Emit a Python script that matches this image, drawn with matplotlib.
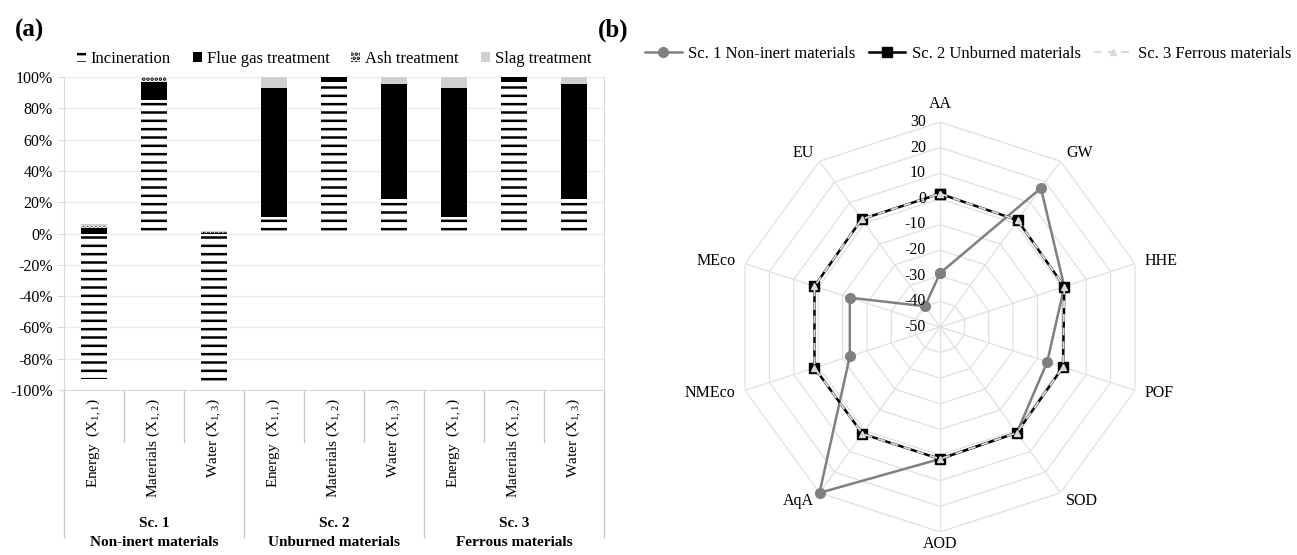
import numpy as np
import matplotlib
matplotlib.use('Agg')
import matplotlib.pyplot as plt
from matplotlib.ticker import FuncFormatter
from matplotlib.transforms import blended_transform_factory

plt.rcParams['font.family'] = ['Liberation Serif', 'DejaVu Serif']
plt.rcParams['mathtext.fontset'] = 'custom'
plt.rcParams['mathtext.rm'] = 'Liberation Serif'
plt.rcParams['hatch.linewidth'] = 1.8
plt.rcParams['font.size'] = 11

# (a) contribution of each process, %
bar_labels = [r'Energy  (X$_{\mathregular{1,1}}$)', r'Materials (X$_{\mathregular{1,2}}$)',
              r'Water (X$_{\mathregular{1,3}}$)'] * 3
group_ids = ['Sc. 1', 'Sc. 2', 'Sc. 3']
group_names = ['Non-inert materials', 'Unburned materials', 'Ferrous materials']
incineration = [-93, 85.4, -97, 10.5, 96.5, 21.9, 10.5, 96.5, 21.9]
flue_gas = [3.2, 11.4, 0.3, 82.2, 3.2, 73.6, 82.2, 3.2, 73.6]
ash = [1.5, 2.9, 0.4, 0, 0, 0, 0, 0, 0]
slag = [1.1, 0.3, 0.6, 7.3, 0.3, 4.5, 7.3, 0.3, 4.5]

# (b) radar values
categories = ['AA', 'GW', 'HHE', 'POF', 'SOD', 'AOD', 'AqA', 'NMEco', 'MEco', 'EU']
sc1 = [-29, 17, 1, -6, 1, 1.5, 30, -13, -13, -40]
sc2 = [2, 1.5, 1, 0.5, 1, 1.5, 1.5, 1.5, 1.5, 2]
sc3 = [2, 1.5, 1, 0.5, 1, 1.5, 1.5, 1.5, 1.5, 2]
radar_ticks = [30, 20, 10, 0, -10, -20, -30, -40, -50]

fig = plt.figure(figsize=(12.97, 5.55), dpi=100)

# ---------- (a) stacked bars ----------
ax = fig.add_axes([64 / 1297, 1 - 390 / 555, 540 / 1297, 313 / 555])
x = np.arange(len(bar_labels))
pos_bottom = np.zeros(len(x))
neg_bottom = np.zeros(len(x))
series = [
    (incineration, 'Incineration', dict(color='white', edgecolor='black', hatch='--', linewidth=0)),
    (flue_gas, 'Flue gas treatment', dict(color='black', linewidth=0)),
    (ash, 'Ash treatment', dict(color='white', edgecolor='black', hatch='....', linewidth=0)),
    (slag, 'Slag treatment', dict(color='#d0d0d0', linewidth=0)),
]
for vals, name, style in series:
    vals = np.array(vals, dtype=float)
    bottom = np.where(vals >= 0, pos_bottom, neg_bottom)
    ax.bar(x, vals, 0.42, bottom=bottom, label=name, zorder=3, **style)
    pos_bottom += np.clip(vals, 0, None)
    neg_bottom += np.clip(vals, None, 0)

ax.set_xlim(-0.5, len(x) - 0.5)
ax.set_ylim(-100, 100)
ax.set_yticks(range(-100, 101, 20))
ax.yaxis.set_major_formatter(FuncFormatter(lambda v, p: f'{v:.0f}%'))
ax.grid(axis='y', color='#ececec', linewidth=1, zorder=0)
ax.set_xticks([])
ax.tick_params(axis='y', length=4, color='#d9d9d9', labelsize=11.5, pad=4)
ax.spines['top'].set_visible(False)
for s in ['left', 'right', 'bottom']:
    ax.spines[s].set_color('#d9d9d9')

trans = blended_transform_factory(ax.transData, ax.transAxes)
for i, lab in enumerate(bar_labels):
    ax.text(i, -0.026, lab, rotation=90, ha='center', va='top', transform=trans, fontsize=11)
for b in np.arange(-0.5, len(x), 1.0):
    end = -0.47 if (b + 0.5) % 3 == 0 else -0.166
    ax.plot([b, b], [0, end], color='#c8c8c8', lw=1, transform=trans, clip_on=False)
for g in range(3):
    ax.text(3 * g + 1, -0.425, group_ids[g], ha='center', va='center', weight='bold',
            transform=trans, fontsize=11)
    ax.text(3 * g + 1, -0.488, group_names[g], ha='center', va='center', weight='bold',
            transform=trans, fontsize=11)

ax.legend(loc='lower center', bbox_to_anchor=(0.5, 1.0), ncol=4, frameon=False,
          handlelength=0.55, handleheight=0.6, handletextpad=0.3, columnspacing=1.3,
          fontsize=12, borderaxespad=0.2)

fig.text(15 / 1297, 1 - 30 / 555, '(a)', fontsize=18, weight='bold', ha='left', va='center')
fig.text(598 / 1297, 1 - 30 / 555, '(b)', fontsize=18, weight='bold', ha='left', va='center')

# ---------- (b) radar ----------
rax = fig.add_axes([735 / 1297, 1 - 532 / 555, 410 / 1297, 410 / 555], projection='polar')
theta = np.linspace(0, 2 * np.pi, len(categories), endpoint=False)
tc = np.append(theta, theta[0])
rax.set_theta_offset(np.pi / 2)
rax.set_theta_direction(-1)
rax.set_ylim(-50, 30)
rax.grid(False)
rax.spines['polar'].set_visible(False)
rax.set_xticks([])
rax.set_yticks([])
rax.patch.set_alpha(0)

for r in radar_ticks[:-1]:
    rax.plot(tc, [r] * len(tc), color='#e0e0e0', lw=0.9, zorder=1)
for t in theta:
    rax.plot([t, t], [-50, 30], color='#e0e0e0', lw=0.9, zorder=1)

def closed(v):
    return list(v) + [v[0]]

rax.plot(tc, closed(sc1), color='#808080', lw=1.8, marker='o', ms=7,
         label='Sc. 1 Non-inert materials', zorder=3, clip_on=False)
rax.plot(tc, closed(sc2), color='black', lw=1.8, marker='s', ms=7,
         label='Sc. 2 Unburned materials', zorder=4, clip_on=False)
rax.plot(tc, closed(sc3), color='#d9d9d9', lw=1.4, ls=(0, (4, 3)), marker='^', ms=4.5,
         label='Sc. 3 Ferrous materials', zorder=5, clip_on=False)

for r in radar_ticks:
    rax.annotate(str(r), xy=(0, r), xytext=(-14, 0), textcoords='offset pixels',
                 ha='right', va='center', fontsize=11.5, zorder=6)
for t, lab in zip(theta, categories):
    s, c = np.sin(t), np.cos(t)
    ha = 'left' if s > 0.1 else ('right' if s < -0.1 else 'center')
    d = 10
    if abs(s) < 0.1:
        d = 18 if c > 0 else 12
    rax.annotate(lab, xy=(t, 30), xytext=(d * s, d * c), textcoords='offset pixels',
                 ha=ha, va='center', fontsize=11.5)

fig.legend(*rax.get_legend_handles_labels(), loc='center',
           bbox_to_anchor=(968 / 1297, 1 - 54 / 555), ncol=3, frameon=False,
           handlelength=2.2, handletextpad=0.4, columnspacing=0.8, fontsize=12)

fig.savefig('out.png', dpi=100)
